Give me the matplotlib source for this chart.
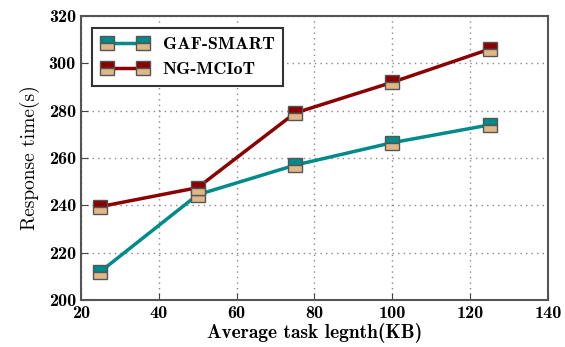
import matplotlib
matplotlib.use("Agg")
import matplotlib.pyplot as plt

# Datos
task_length = [25, 50, 75, 100, 125]
gaf_smart = [212, 244.5, 257, 266.5, 274]
ng_mciot = [239.5, 247.5, 279, 292, 306]

x_ticks = [20, 40, 60, 80, 100, 120, 140]
y_ticks = [200, 220, 240, 260, 280, 300, 320]

BOLD = "cmb10"
REG = "cmr10"
plt.rcParams["axes.formatter.use_mathtext"] = True

fig = plt.figure(figsize=(5.65, 3.47), dpi=100)
ax = fig.add_axes([0.143, 0.135, 0.827, 0.819])

style = dict(marker="s", markersize=10, linewidth=2.5, fillstyle="top",
             markerfacecoloralt="#deb887", markeredgecolor="#555555", markeredgewidth=1.0)
ax.plot(task_length, gaf_smart, color="#008b8b", markerfacecolor="#008b8b",
        label="GAF-SMART", **style)
ax.plot(task_length, ng_mciot, color="#8b0000", markerfacecolor="#8b0000",
        label="NG-MCIoT", **style)

ax.set_xlim(20, 140)
ax.set_ylim(200, 320)
ax.set_xticks(x_ticks)
ax.set_yticks(y_ticks)
ax.set_xticklabels([str(v) for v in x_ticks], fontfamily=BOLD, fontsize=13)
ax.set_yticklabels([str(v) for v in y_ticks], fontfamily=BOLD, fontsize=13)
ax.tick_params(direction="in", length=5, color="#444444")
ax.tick_params(axis="x", pad=4)
ax.grid(True, linestyle=(0, (1, 3)), color="#888888", linewidth=1.0)
ax.set_axisbelow(True)
for spine in ax.spines.values():
    spine.set_color("#555555")
    spine.set_linewidth(1.5)

ax.set_xlabel("Average task legnth(KB)", fontfamily=BOLD, fontsize=14, labelpad=2)
ax.set_ylabel("Response time(s)", fontfamily=REG, fontsize=14, labelpad=6)

leg = ax.legend(loc="upper left", prop={"family": BOLD, "size": 13}, fancybox=False,
                edgecolor="#333333", framealpha=1, borderpad=0.5, handlelength=2.6,
                numpoints=2, bbox_to_anchor=(0.005, 0.99))
leg.get_frame().set_linewidth(1.5)

fig.savefig("out.png", dpi=100)
